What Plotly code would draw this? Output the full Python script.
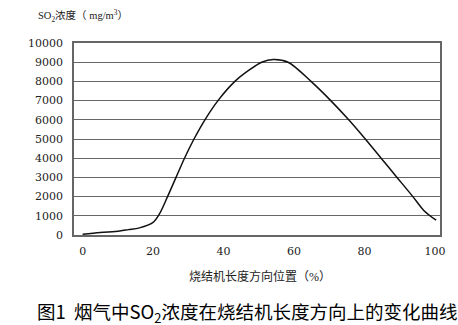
import plotly.graph_objects as go

# Position along sintering machine length (%)
position = [0, 5, 10.5, 13, 16.1, 19.9, 21.8, 24.1, 26.5, 28.9, 31.6, 34.7, 38.4,
            43.2, 47.1, 50.8, 54.1, 58.3, 64.8, 70.4, 75.5, 80.2, 84.7, 89.2,
            93.7, 96.8, 100.3]
# SO2 concentration (mg/m3)
so2 = [40, 130, 210, 280, 370, 640, 1100, 2000, 3000, 4000, 5000, 6000, 7000,
       8000, 8570, 9000, 9140, 9000, 8000, 7000, 6000, 5000, 4000, 3000,
       2000, 1280, 770]

x_ticks = [0, 20, 40, 60, 80, 100]
y_ticks = list(range(0, 10001, 1000))
y_labels = [str(v) for v in y_ticks]

serif = "DejaVu Serif, Noto Sans CJK SC, serif"
title_font = "Liberation Serif, Noto Sans CJK SC, serif"
cjk = "Noto Sans CJK SC, sans-serif"

fig = go.Figure()
fig.add_trace(go.Scatter(
    x=position, y=so2, mode="lines",
    line=dict(color="#111111", width=1.5, shape="spline", smoothing=0.9),
    showlegend=False, hoverinfo="skip",
))

fig.update_layout(
    width=458, height=325,
    margin=dict(l=74, r=15, t=43, b=90),
    paper_bgcolor="white", plot_bgcolor="white",
    font=dict(family=serif, size=11, color="#222222"),
    xaxis=dict(
        range=[-2.45, 101.4], tickvals=x_ticks, showgrid=False, zeroline=False,
        showline=True, linecolor="#666666", linewidth=1.5, mirror=True,
        ticks="", ticklabelstandoff=5,
        tickfont=dict(family=serif, size=11, color="#222222"),
    ),
    yaxis=dict(
        range=[0, 10000], tickvals=y_ticks, ticktext=y_labels,
        showgrid=True, gridcolor="#666666",
        gridwidth=1, zeroline=False,
        showline=True, linecolor="#666666", linewidth=1.5, mirror=True,
        ticks="", ticklabelstandoff=7,
        tickfont=dict(family=serif, size=11, color="#222222"),
    ),
    annotations=[
        dict(text="SO<sub>2</sub>浓度（ mg/m<sup>3</sup>）", xref="paper", yref="paper",
             x=-0.103, y=1.0, xanchor="left", yanchor="bottom", yshift=17,
             showarrow=False, font=dict(family=title_font, size=10.5, color="#222222")),
        dict(text="烧结机长度方向位置（%）", xref="paper", yref="paper",
             x=0.508, y=0, xanchor="center", yanchor="top", yshift=-32,
             showarrow=False, font=dict(family=title_font, size=12, color="#222222")),
        dict(text="图1  烟气中SO<sub>2</sub>浓度在烧结机长度方向上的变化曲线",
             xref="paper", yref="paper", x=0.473, y=0, xanchor="center", yanchor="top",
             yshift=-62, showarrow=False, borderpad=0,
             font=dict(family=cjk, size=18.5, color="#000000")),
    ],
)

fig.write_html("out.html")
